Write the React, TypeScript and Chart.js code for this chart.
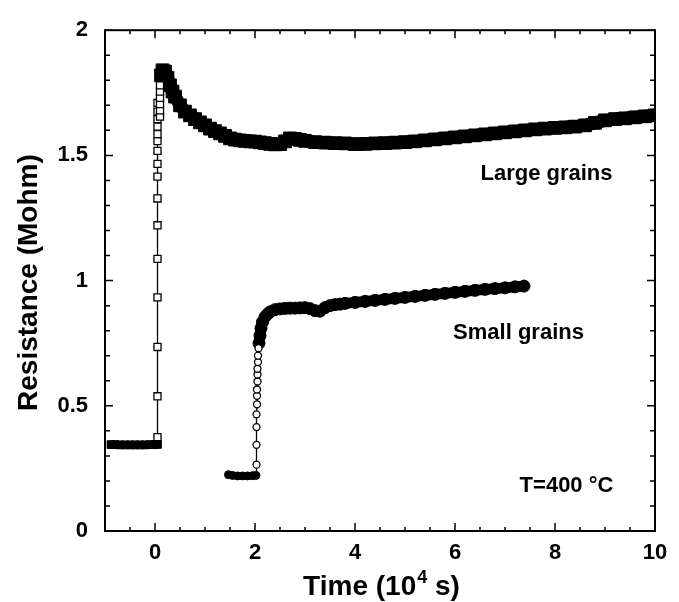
import React, { useEffect, useRef } from "react";
import { Chart, registerables } from "chart.js";

Chart.register(...registerables);

// ---- axis ticks ----
const xTickValues = [0, 2, 4, 6, 8, 10];
const xTickLabels = ["0", "2", "4", "6", "8", "10"];
const yTickValues = [0, 0.5, 1, 1.5, 2];
const yTickLabels = ["0", "0.5", "1", "1.5", "2"];

// ---- Large grains (squares) ----
const largeBaseX = [-0.88, -0.8, -0.7, -0.6, -0.5, -0.4, -0.3, -0.2, -0.1, 0.0, 0.05];
const largeBaseY = [0.345, 0.345, 0.344, 0.344, 0.344, 0.344, 0.344, 0.344, 0.345, 0.345, 0.346];

const largeRiseX = [0.05, 0.05, 0.05, 0.05, 0.05, 0.05, 0.05, 0.05, 0.05, 0.05, 0.05, 0.05, 0.05, 0.05, 0.05, 0.05, 0.1, 0.1, 0.1, 0.1, 0.1, 0.1];
const largeRiseY = [0.375, 0.538, 0.735, 0.933, 1.087, 1.221, 1.328, 1.415, 1.466, 1.518, 1.557, 1.585, 1.615, 1.645, 1.675, 1.71, 1.655, 1.68, 1.705, 1.73, 1.755, 1.78];

const largeDecayX = [0.12, 0.15, 0.2, 0.25, 0.3, 0.35, 0.4, 0.5, 0.6, 0.7, 0.8, 0.9, 1.0, 1.1, 1.2, 1.3, 1.4, 1.5, 1.6, 1.7, 1.8, 1.9, 2.0, 2.1, 2.2, 2.3, 2.4, 2.5, 2.6, 2.7, 2.8, 2.9, 3.0, 3.2, 3.4, 3.6, 3.8, 4.0, 4.2, 4.4, 4.6, 4.8, 5.0, 5.2, 5.4, 5.6, 5.8, 6.0, 6.2, 6.4, 6.6, 6.8, 7.0, 7.2, 7.4, 7.6, 7.8, 8.0, 8.2, 8.4, 8.6, 8.8, 9.0, 9.2, 9.4, 9.6, 9.8, 10.0];
const largeDecayY = [1.82, 1.84, 1.835, 1.81, 1.78, 1.755, 1.735, 1.7, 1.675, 1.66, 1.645, 1.632, 1.62, 1.607, 1.597, 1.588, 1.578, 1.568, 1.563, 1.56, 1.558, 1.556, 1.555, 1.552, 1.549, 1.546, 1.544, 1.545, 1.556, 1.568, 1.566, 1.562, 1.558, 1.553, 1.551, 1.549, 1.548, 1.545, 1.546, 1.548, 1.549, 1.551, 1.553, 1.556, 1.56, 1.564, 1.568, 1.572, 1.576, 1.58, 1.584, 1.588, 1.592, 1.596, 1.6, 1.604, 1.607, 1.61, 1.612, 1.615, 1.62, 1.63, 1.64, 1.645, 1.648, 1.652, 1.656, 1.66];

// ---- Small grains (circles) ----
const smallBaseX = [1.47, 1.55, 1.65, 1.75, 1.85, 1.95, 2.02];
const smallBaseY = [0.225, 0.222, 0.22, 0.22, 0.22, 0.221, 0.222];

const smallRiseX = [2.03, 2.03, 2.03, 2.03, 2.04, 2.04, 2.04, 2.05, 2.05, 2.05, 2.06, 2.06, 2.07];
const smallRiseY = [0.265, 0.344, 0.415, 0.466, 0.506, 0.54, 0.565, 0.597, 0.625, 0.648, 0.675, 0.7, 0.73];

const smallDenseX = [2.08, 2.1, 2.12, 2.15, 2.2, 2.25, 2.3, 2.4, 2.5, 2.6, 2.7, 2.8, 2.9, 3.0, 3.1, 3.2, 3.3, 3.4, 3.5, 3.6, 3.7, 3.8, 4.0, 4.2, 4.4, 4.6, 4.8, 5.0, 5.2, 5.4, 5.6, 5.8, 6.0, 6.2, 6.4, 6.6, 6.8, 7.0, 7.2, 7.38];
const smallDenseY = [0.75, 0.78, 0.81, 0.835, 0.855, 0.866, 0.875, 0.884, 0.887, 0.889, 0.89, 0.89, 0.891, 0.892, 0.888, 0.88, 0.878, 0.892, 0.9, 0.904, 0.906, 0.909, 0.913, 0.917, 0.921, 0.925, 0.929, 0.933, 0.937, 0.941, 0.945, 0.949, 0.953, 0.957, 0.961, 0.965, 0.968, 0.971, 0.975, 0.978];

// ---- annotations (data coordinates) ----
const annotations = [
  { text: "Large grains", x: 7.83, y: 1.4 },
  { text: "Small grains", x: 7.27, y: 0.767 },
  { text: "T=400 °C", x: 8.23, y: 0.154 },
];

const FONT = '"Liberation Sans", Arial, Helvetica, sans-serif';

const pts = (xs: number[], ys: number[]) => xs.map((x, i) => ({ x, y: ys[i] }));

const framePlugin = {
  id: "frame",
  afterDraw(chart: any) {
    const { ctx, chartArea: a, scales } = chart;
    const xs = scales.x;
    const ys = scales.y;
    ctx.save();
    ctx.strokeStyle = "#000";
    ctx.fillStyle = "#000";
    ctx.lineWidth = 1.5;
    ctx.beginPath();
    for (let i = 0; i <= 22; i++) {
      const v = -1 + i * 0.5;
      const px = xs.getPixelForValue(v);
      const major = xTickValues.some((t) => Math.abs(t - v) < 1e-6);
      const len = major ? 8 : 4;
      ctx.moveTo(px, a.bottom);
      ctx.lineTo(px, a.bottom - len);
      ctx.moveTo(px, a.top);
      ctx.lineTo(px, a.top + len);
    }
    for (let i = 0; i <= 20; i++) {
      const v = i * 0.1;
      const py = ys.getPixelForValue(v);
      const major = yTickValues.some((t) => Math.abs(t - v) < 1e-6);
      const len = major ? 8 : 5;
      ctx.moveTo(a.left, py);
      ctx.lineTo(a.left + len, py);
      ctx.moveTo(a.right, py);
      ctx.lineTo(a.right - len, py);
    }
    ctx.stroke();
    ctx.lineWidth = 2;
    ctx.strokeRect(a.left, a.top, a.right - a.left, a.bottom - a.top);

    ctx.font = `bold 22px ${FONT}`;
    ctx.textAlign = "center";
    ctx.textBaseline = "alphabetic";
    annotations.forEach((an) => {
      ctx.fillText(an.text, xs.getPixelForValue(an.x), ys.getPixelForValue(an.y));
    });

    const big = `bold 28px ${FONT}`;
    const sup = `bold 18px ${FONT}`;
    const p1 = "Time (10";
    const p2 = "4";
    const p3 = " s)";
    ctx.font = big;
    const w1 = ctx.measureText(p1).width;
    const w3 = ctx.measureText(p3).width;
    ctx.font = sup;
    const w2 = ctx.measureText(p2).width;
    const total = w1 + w2 + w3;
    const cx = (a.left + a.right) / 2 + 1;
    let sx = cx - total / 2;
    const base = 595;
    ctx.textAlign = "left";
    ctx.font = big;
    ctx.fillText(p1, sx, base);
    sx += w1;
    ctx.font = sup;
    ctx.fillText(p2, sx + 1, base - 12);
    sx += w2 + 1;
    ctx.font = big;
    ctx.fillText(p3, sx, base);

    ctx.translate(37, (a.top + a.bottom) / 2 + 2);
    ctx.rotate(-Math.PI / 2);
    ctx.textAlign = "center";
    ctx.font = big;
    ctx.fillText("Resistance (Mohm)", 0, 0);
    ctx.restore();
  },
};

function markers(data: any[], style: string, r: number, fill: string, bw: number) {
  return {
    data,
    pointStyle: style,
    pointRadius: r,
    pointBackgroundColor: fill,
    pointBorderColor: "#000",
    pointBorderWidth: bw,
    showLine: false,
    order: 0,
  };
}

function band(data: any[], width: number) {
  return {
    data,
    pointRadius: 0,
    showLine: true,
    borderColor: "#000",
    borderWidth: width,
    borderJoinStyle: "round" as const,
    order: 1,
  };
}

export default function App() {
  const ref = useRef<HTMLCanvasElement | null>(null);
  useEffect(() => {
    document.body.style.margin = "0";
    const canvas = ref.current!;
    const tickFont = { family: FONT, weight: "bold" as const, size: 22 };
    const largeBase = pts(largeBaseX, largeBaseY);
    const largeRise = pts(largeRiseX, largeRiseY);
    const largeDecay = pts(largeDecayX, largeDecayY);
    const smallBase = pts(smallBaseX, smallBaseY);
    const smallRise = pts(smallRiseX, smallRiseY);
    const smallDense = pts(smallDenseX, smallDenseY);
    const chart = new Chart(canvas, {
      type: "scatter",
      data: {
        datasets: [
          markers(largeBase, "rect", 5.5, "#000", 1),
          markers(largeRise, "rect", 5, "#fff", 1.3),
          markers(largeDecay, "rect", 9, "#000", 1),
          markers(smallBase, "circle", 4, "#000", 1),
          markers(smallRise, "circle", 3.5, "#fff", 1.3),
          markers(smallDense, "circle", 6, "#000", 1),
          band(largeBase, 7),
          band(largeDecay, 13),
          band(smallBase, 7),
          band(smallDense, 11),
          { ...band([...largeBase, ...largeRise, ...largeDecay], 1.3), order: 2 },
          { ...band([...smallBase, ...smallRise, ...smallDense], 1.3), order: 2 },
        ] as any,
      },
      options: {
        animation: false,
        responsive: false,
        devicePixelRatio: 1,
        layout: { padding: { left: 0, right: 24, top: 25, bottom: 0 } },
        plugins: { legend: { display: false }, tooltip: { enabled: false } },
        scales: {
          x: {
            type: "linear",
            min: -1,
            max: 10,
            grid: { display: false, drawTicks: false },
            border: { display: false },
            ticks: {
              color: "#000",
              font: tickFont,
              padding: 9,
              autoSkip: false,
              maxRotation: 0,
              callback: (v: any) => {
                const i = xTickValues.findIndex((t) => Math.abs(t - Number(v)) < 1e-6);
                return i >= 0 ? xTickLabels[i] : "";
              },
            },
            afterBuildTicks: (s: any) => {
              s.ticks = xTickValues.map((v) => ({ value: v }));
            },
            afterFit: (s: any) => {
              s.height = 71;
            },
          },
          y: {
            type: "linear",
            min: 0,
            max: 2,
            grid: { display: false, drawTicks: false },
            border: { display: false },
            ticks: {
              color: "#000",
              font: tickFont,
              padding: 17,
              autoSkip: false,
              callback: (v: any) => {
                const i = yTickValues.findIndex((t) => Math.abs(t - Number(v)) < 1e-6);
                return i >= 0 ? yTickLabels[i] : "";
              },
            },
            afterBuildTicks: (s: any) => {
              s.ticks = yTickValues.map((v) => ({ value: v }));
            },
            afterFit: (s: any) => {
              s.width = 105;
            },
          },
        },
      },
      plugins: [framePlugin],
    });
    return () => chart.destroy();
  }, []);
  return (
    <div style={{ width: 679, height: 602 }}>
      <canvas ref={ref} width={679} height={602} style={{ display: "block" }} />
    </div>
  );
}
